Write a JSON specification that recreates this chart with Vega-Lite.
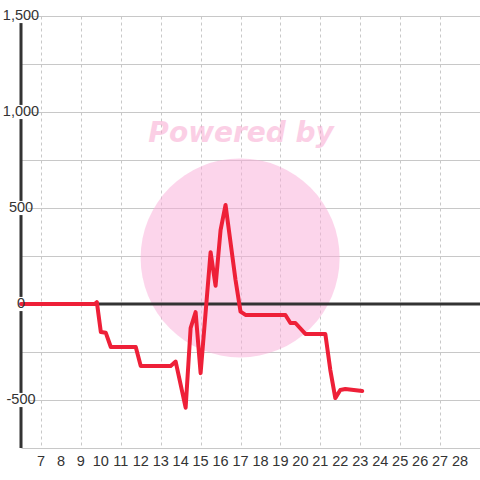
{
  "$schema": "https://vega.github.io/schema/vega-lite/v6.json",
  "autosize": "none",
  "width": 459,
  "height": 432,
  "padding": {"left": 21, "top": 16, "right": 0, "bottom": 32},
  "background": "white",
  "config": {
    "view": {"stroke": null},
    "font": "Liberation Sans",
    "axisX": {"labels": false, "domain": false, "ticks": false, "gridColor": "#c8c8c8", "gridDash": [3, 3], "title": null},
    "axisY": {"labels": false, "domain": false, "ticks": false, "gridColor": "#c8c8c8", "title": null}
  },
  "datasets": {
    "series": [
      {"x": 6, "y": 0}, {"x": 9.7, "y": 0}, {"x": 9.8, "y": 10}, {"x": 10, "y": -146},
      {"x": 10.25, "y": -150}, {"x": 10.5, "y": -224}, {"x": 11.75, "y": -224}, {"x": 12, "y": -323},
      {"x": 13.5, "y": -323}, {"x": 13.75, "y": -300}, {"x": 14.25, "y": -540}, {"x": 14.5, "y": -125},
      {"x": 14.75, "y": -42}, {"x": 15, "y": -360}, {"x": 15.5, "y": 270}, {"x": 15.75, "y": 95},
      {"x": 16, "y": 385}, {"x": 16.25, "y": 516}, {"x": 16.75, "y": 125}, {"x": 17, "y": -40},
      {"x": 17.25, "y": -57}, {"x": 19.25, "y": -57}, {"x": 19.5, "y": -99}, {"x": 19.75, "y": -99},
      {"x": 20.25, "y": -156}, {"x": 21.25, "y": -156}, {"x": 21.5, "y": -344}, {"x": 21.75, "y": -490},
      {"x": 22, "y": -448}, {"x": 22.25, "y": -443}, {"x": 23.1, "y": -453}
    ],
    "ylabels": [
      {"x": 6, "v": -500, "label": "-500"}, {"x": 6, "v": 0, "label": "0"}, {"x": 6, "v": 500, "label": "500"},
      {"x": 6, "v": 1000, "label": "1,000"}, {"x": 6, "v": 1500, "label": "1,500"}
    ],
    "xlabels": [
      {"t": 7, "y": -750}, {"t": 8, "y": -750}, {"t": 9, "y": -750}, {"t": 10, "y": -750},
      {"t": 11, "y": -750}, {"t": 12, "y": -750}, {"t": 13, "y": -750}, {"t": 14, "y": -750},
      {"t": 15, "y": -750}, {"t": 16, "y": -750}, {"t": 17, "y": -750}, {"t": 18, "y": -750},
      {"t": 19, "y": -750}, {"t": 20, "y": -750}, {"t": 21, "y": -750}, {"t": 22, "y": -750},
      {"t": 23, "y": -750}, {"t": 24, "y": -750}, {"t": 25, "y": -750}, {"t": 26, "y": -750},
      {"t": 27, "y": -750}, {"t": 28, "y": -750}
    ]
  },
  "layer": [
    {
      "data": {"values": [{"x": 16.98, "y": 240}]},
      "mark": {"type": "point", "shape": "circle", "filled": true, "size": 39600, "color": "#f9abd7", "opacity": 0.5, "stroke": null},
      "encoding": {
        "x": {"field": "x", "type": "quantitative", "scale": {"domain": [6, 29], "nice": false, "zero": false},
          "axis": {"values": [7,8,9,10,11,12,13,14,15,16,17,18,19,20,21,22,23,24,25,26,27,28], "grid": true, "labels": false}},
        "y": {"field": "y", "type": "quantitative", "scale": {"domain": [-750, 1500], "nice": false, "zero": false},
          "axis": {"values": [-750,-500,-250,0,250,500,750,1000,1250,1500], "grid": true, "labels": false}}
      }
    },
    {
      "data": {"values": [{"x": 17.03, "y": 885, "t": "Powered by"}]},
      "mark": {"type": "text", "font": "DejaVu Sans", "fontWeight": "bold", "fontStyle": "italic", "fontSize": 28, "color": "#f9a1cd", "opacity": 0.5, "align": "center", "baseline": "middle"},
      "encoding": {
        "x": {"field": "x", "type": "quantitative"},
        "y": {"field": "y", "type": "quantitative"},
        "text": {"field": "t"}
      }
    },
    {
      "data": {"values": [{"x": 6}]},
      "mark": {"type": "rule", "color": "#333", "strokeWidth": 3},
      "encoding": {"x": {"field": "x", "type": "quantitative"}}
    },
    {
      "data": {"values": [{"y": 0}]},
      "mark": {"type": "rule", "color": "#333", "strokeWidth": 3},
      "encoding": {"y": {"field": "y", "type": "quantitative"}}
    },
    {
      "data": {"name": "ylabels"},
      "mark": {"type": "square", "size": 200, "color": "white", "filled": true, "opacity": 1},
      "encoding": {
        "x": {"field": "x", "type": "quantitative"},
        "y": {"field": "v", "type": "quantitative"}
      }
    },
    {
      "data": {"name": "series"},
      "mark": {"type": "line", "color": "#ee2038", "strokeWidth": 4, "strokeJoin": "round", "strokeCap": "round"},
      "encoding": {
        "x": {"field": "x", "type": "quantitative"},
        "y": {"field": "y", "type": "quantitative"}
      }
    },
    {
      "data": {"name": "ylabels"},
      "mark": {"type": "text", "fontSize": 14.5, "color": "#333", "align": "center", "baseline": "middle"},
      "encoding": {
        "x": {"field": "x", "type": "quantitative"},
        "y": {"field": "v", "type": "quantitative"},
        "text": {"field": "label"}
      }
    },
    {
      "data": {"name": "xlabels"},
      "mark": {"type": "text", "fontSize": 14.5, "color": "#333", "align": "center", "baseline": "middle", "dy": 14},
      "encoding": {
        "x": {"field": "t", "type": "quantitative"},
        "y": {"field": "y", "type": "quantitative"},
        "text": {"field": "t", "type": "quantitative"}
      }
    }
  ]
}
